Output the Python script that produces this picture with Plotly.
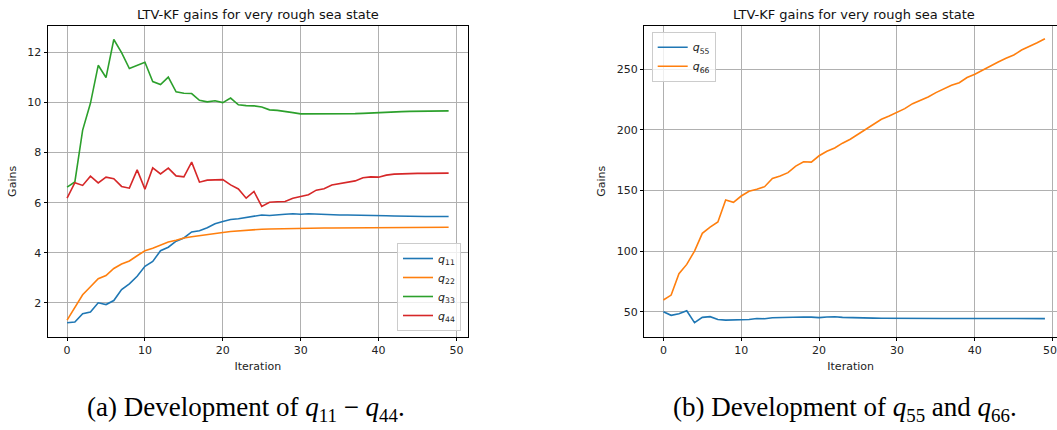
import plotly.graph_objects as go

W, H = 1057, 430

iterations = list(range(50))

q11 = [1.20, 1.23, 1.56, 1.63, 2.00, 1.93, 2.09, 2.53, 2.76, 3.06,
       3.46, 3.65, 4.08, 4.22, 4.46, 4.59, 4.83, 4.88, 5.00, 5.16,
       5.25, 5.33, 5.36, 5.42, 5.48, 5.51, 5.49, 5.53, 5.54, 5.56,
       5.54, 5.56, 5.54, 5.53, 5.52, 5.51, 5.51, 5.51, 5.50, 5.49,
       5.48, 5.48, 5.47, 5.46, 5.46, 5.45, 5.45, 5.45, 5.45, 5.45]
q22 = [1.31, 1.83, 2.32, 2.64, 2.96, 3.09, 3.37, 3.55, 3.67, 3.88,
       4.08, 4.18, 4.32, 4.43, 4.50, 4.59, 4.64, 4.69, 4.73, 4.79,
       4.81, 4.85, 4.88, 4.90, 4.92, 4.94, 4.95, 4.96, 4.96, 4.97,
       4.97, 4.98, 4.98, 4.99, 4.99, 4.99, 5.00, 5.00, 5.00, 5.00,
       5.01, 5.01, 5.01, 5.01, 5.02, 5.02, 5.02, 5.02, 5.02, 5.02]
q33 = [6.62, 6.83, 8.90, 9.97, 11.49, 11.00, 12.52, 12.00, 11.36, 11.47,
       11.61, 10.84, 10.72, 11.02, 10.43, 10.37, 10.36, 10.09, 10.03, 10.07,
       10.00, 10.18, 9.91, 9.88, 9.87, 9.82, 9.71, 9.69, 9.63, 9.60,
       9.55, 9.55, 9.54, 9.53, 9.54, 9.54, 9.55, 9.56, 9.57, 9.59,
       9.61, 9.62, 9.63, 9.64, 9.65, 9.65, 9.66, 9.66, 9.67, 9.67]
q44 = [6.18, 6.80, 6.69, 7.06, 6.79, 7.02, 6.96, 6.65, 6.58, 7.31,
       6.54, 7.39, 7.15, 7.38, 7.07, 7.03, 7.62, 6.82, 6.90, 6.92,
       6.92, 6.71, 6.55, 6.18, 6.45, 5.85, 6.02, 6.04, 6.05, 6.18,
       6.24, 6.32, 6.50, 6.56, 6.71, 6.77, 6.83, 6.87, 7.00, 7.03,
       7.02, 7.10, 7.14, 7.16, 7.15, 7.17, 7.17, 7.18, 7.18, 7.18]

q55 = [50.0, 47.0, 48.3, 50.8, 41.0, 45.3, 45.9, 43.6, 43.0, 43.3,
       43.0, 43.6, 44.4, 44.2, 45.0, 45.3, 45.4, 45.6, 45.6, 45.5,
       45.1, 45.6, 45.8, 45.3, 45.0, 44.9, 44.8, 44.7, 44.6, 44.5,
       44.5, 44.4, 44.4, 44.4, 44.4, 44.4, 44.4, 44.4, 44.4, 44.4,
       44.3, 44.3, 44.3, 44.3, 44.3, 44.3, 44.3, 44.3, 44.3, 44.3]
q66 = [59.6, 63.7, 81.3, 89.0, 100.0, 114.6, 119.8, 124.0, 142.1, 140.2,
       145.4, 149.3, 150.9, 153.1, 159.8, 161.9, 164.7, 170.1, 173.7, 173.4,
       178.6, 182.3, 185.0, 189.0, 192.2, 196.3, 201.0, 205.1, 208.7, 211.4,
       214.2, 217.5, 221.6, 224.3, 227.1, 230.7, 234.0, 236.7, 238.9, 243.1,
       245.8, 249.3, 252.6, 255.9, 259.0, 261.7, 265.8, 269.2, 271.9, 275.2]

x_ticks = [0, 10, 20, 30, 40, 50]
left_y_ticks = [2, 4, 6, 8, 10, 12]
right_y_ticks = [50, 100, 150, 200, 250]

left_series = [("11", q11, "#1f77b4"),
               ("22", q22, "#ff7f0e"),
               ("33", q33, "#2ca02c"),
               ("44", q44, "#d62728")]
right_series = [("55", q55, "#1f77b4"),
                ("66", q66, "#ff7f0e")]

title_text = "LTV-KF gains for very rough sea state"
caption_a = "(a) Development of <i>q</i><sub>11</sub> − <i>q</i><sub>44</sub>."
caption_b = "(b) Development of <i>q</i><sub>55</sub> and <i>q</i><sub>66</sub>."

fig = go.Figure()

for idx, vals, color in left_series:
    fig.add_trace(go.Scatter(x=iterations, y=vals, mode="lines",
                             name=f"<i>q</i><sub>{idx}</sub>",
                             line=dict(color=color, width=1.6),
                             xaxis="x", yaxis="y", legend="legend"))
for idx, vals, color in right_series:
    fig.add_trace(go.Scatter(x=iterations, y=vals, mode="lines",
                             name=f"<i>q</i><sub>{idx}</sub>",
                             line=dict(color=color, width=1.6),
                             xaxis="x2", yaxis="y2", legend="legend2"))


def px_x(p):
    return p / W


def px_y(p):
    return 1 - p / H


tick_font = dict(family="DejaVu Sans", size=11, color="#222222")
axis_common = dict(
    showgrid=True, gridcolor="#b0b0b0", gridwidth=0.8,
    showline=True, linecolor="#000000", linewidth=0.9,
    ticks="outside", ticklen=3.5, tickwidth=0.8, tickcolor="#000000",
    tickfont=tick_font, zeroline=False,
)

ybot, ytop = px_y(336.7), px_y(26)
label_font = dict(family="DejaVu Sans", size=11, color="#222222")

# the right panel runs off the page edge, so its last tick label is
# written separately so that it is not dropped
right_x_text = [str(v) for v in x_ticks[:-1]] + [""]

fig.update_layout(
    width=W, height=H,
    margin=dict(l=0, r=0, t=0, b=0),
    paper_bgcolor="white", plot_bgcolor="white",
    font=dict(family="DejaVu Sans", color="#222222"),
    xaxis=dict(domain=[px_x(48), px_x(467.7)], range=[-2.45, 51.45],
               tickvals=x_ticks, mirror=True, anchor="y",
               title=dict(text="Iteration", font=label_font, standoff=5),
               **axis_common),
    yaxis=dict(domain=[ybot, ytop], range=[0.645, 13.06],
               tickvals=left_y_ticks, mirror=True, anchor="x",
               title=dict(text="Gains", font=label_font, standoff=8),
               **axis_common),
    xaxis2=dict(domain=[px_x(644.3), 1.0], range=[-2.45, 50.55],
                tickmode="array", tickvals=x_ticks, ticktext=right_x_text,
                mirror=True, anchor="y2",
                title=dict(text="Iteration", font=label_font, standoff=5),
                **axis_common),
    yaxis2=dict(domain=[ybot, ytop], range=[29.35, 285.65],
                tickvals=right_y_ticks, mirror=False, anchor="x2",
                title=dict(text="Gains", font=label_font, standoff=8),
                **axis_common),
    legend=dict(x=px_x(461), y=px_y(331), xanchor="right", yanchor="bottom",
                bgcolor="rgba(255,255,255,0.8)", bordercolor="#cccccc",
                borderwidth=1, font=dict(size=11, family="DejaVu Sans", color="#222222"),
                itemwidth=30, tracegroupgap=0),
    legend2=dict(x=px_x(651.7), y=px_y(31.7), xanchor="left", yanchor="top",
                 bgcolor="rgba(255,255,255,0.8)", bordercolor="#cccccc",
                 borderwidth=1, font=dict(size=11, family="DejaVu Sans", color="#222222"),
                 itemwidth=30, tracegroupgap=0),
    showlegend=True,
)

fig.add_annotation(text=str(x_ticks[-1]), x=x_ticks[-1], xref="x2",
                   y=px_y(350.5), yref="paper", showarrow=False,
                   xanchor="center", yanchor="middle", xshift=-3,
                   font=tick_font)

# subplot titles
for cx in (257.9, 854.0):
    fig.add_annotation(text=title_text, x=px_x(cx), y=px_y(14), xref="paper", yref="paper",
                       showarrow=False, xanchor="center", yanchor="middle",
                       font=dict(family="DejaVu Sans", size=13, color="#111111"))

# figure captions
for cx, txt in ((246, caption_a), (845, caption_b)):
    fig.add_annotation(text=txt, x=px_x(cx), y=px_y(409), xref="paper", yref="paper",
                       showarrow=False, xanchor="center", yanchor="middle",
                       font=dict(family="Liberation Serif", size=27, color="#000000"))

fig.write_html("out.html")
